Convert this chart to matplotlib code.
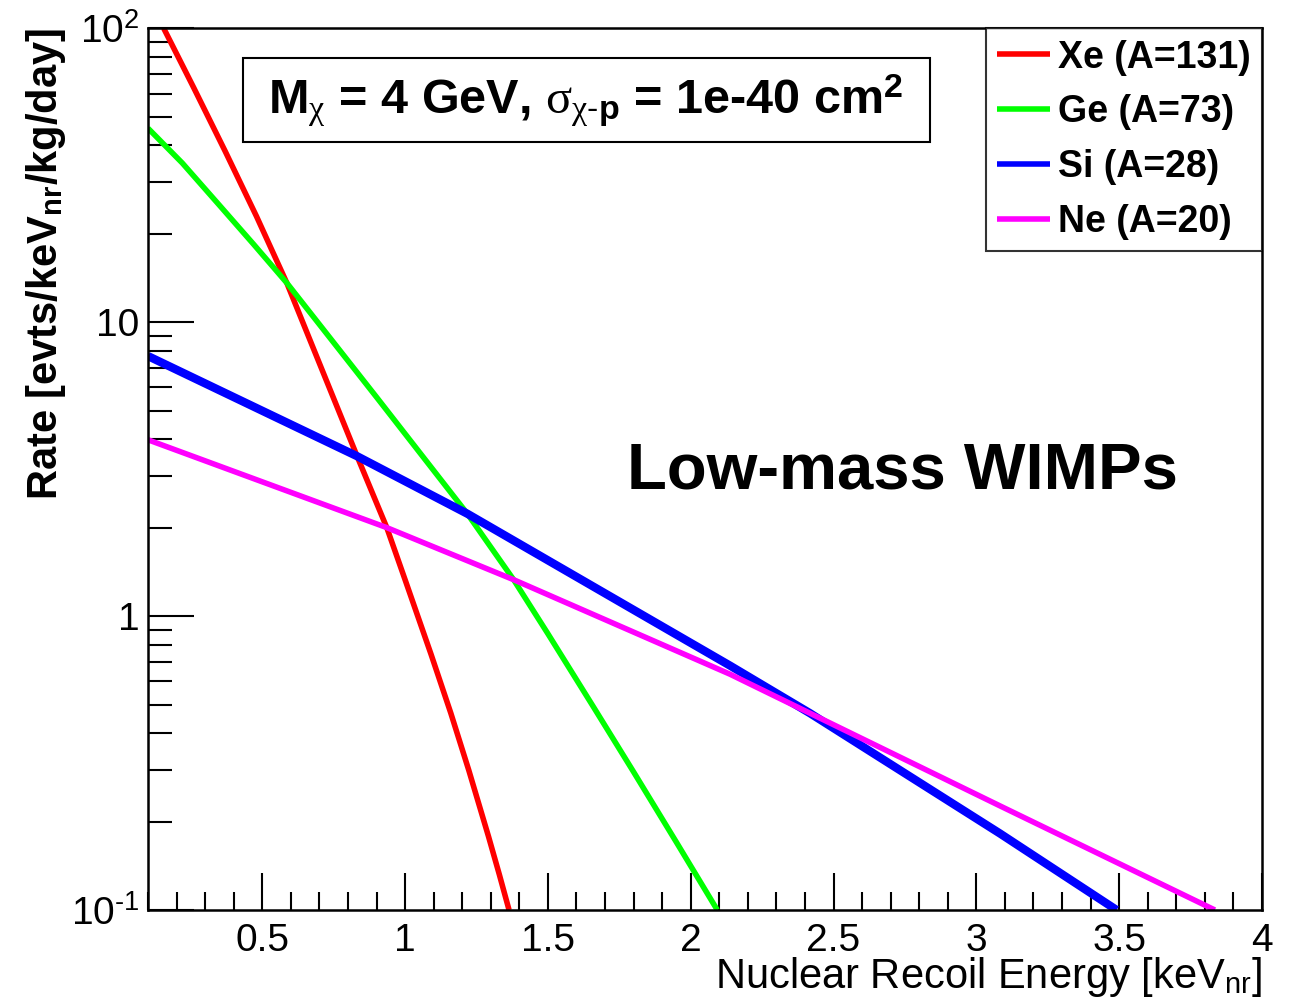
import numpy as np
import matplotlib
matplotlib.use("Agg")
import matplotlib.pyplot as plt
from matplotlib.patches import Rectangle
from matplotlib.ticker import MultipleLocator, LogLocator, FixedLocator, FixedFormatter, NullFormatter

plt.rcParams['font.family'] = ['Liberation Sans', 'DejaVu Sans']
plt.rcParams['mathtext.fontset'] = 'custom'
plt.rcParams['mathtext.rm'] = 'Liberation Sans'
plt.rcParams['mathtext.bf'] = 'Liberation Sans:bold'
plt.rcParams['mathtext.it'] = 'Liberation Serif'

# values (recoil energy in keVnr, rate in evts/keVnr/kg/day)
xe_E = [0.155, 0.260, 0.370, 0.480, 0.586, 0.832, 0.936, 1.000, 1.091, 1.160, 1.223, 1.292, 1.330, 1.364]
xe_R = [100.0, 62.8, 38.2, 22.9, 13.6, 3.50, 2.00, 1.33, 0.741, 0.468, 0.299, 0.178, 0.132, 0.10]

ge_E = [0.100, 0.220, 0.350, 0.470, 0.586, 0.900, 1.218, 1.380, 1.500, 1.660, 1.800, 1.950, 2.093]
ge_R = [45.7, 34.8, 25.0, 18.4, 13.6, 5.56, 2.23, 1.33, 0.871, 0.490, 0.295, 0.170, 0.10]

si_E = [0.100, 0.832, 1.218, 2.138, 2.418, 3.083, 3.491]
si_R = [7.67, 3.50, 2.23, 0.678, 0.467, 0.182, 0.10]

ne_E = [0.100, 0.936, 1.380, 2.138, 2.418, 3.083, 3.835]
ne_R = [3.98, 2.00, 1.33, 0.634, 0.467, 0.226, 0.10]

labels = ['Xe (A=131)', 'Ge (A=73)', 'Si (A=28)', 'Ne (A=20)']
colors = ['#ff0000', '#00ff00', '#0000ff', '#ff00ff']

W, H = 1291, 1005
fig = plt.figure(figsize=(W / 100, H / 100), dpi=100)
ax = fig.add_axes([148 / W, 95 / H, 1114 / W, 881.7 / H])

ax.plot(xe_E, xe_R, color=colors[0], lw=4, label=labels[0], solid_capstyle='butt', solid_joinstyle='round')
ax.plot(ge_E, ge_R, color=colors[1], lw=4, label=labels[1], solid_capstyle='butt', solid_joinstyle='round')
ax.plot(si_E, si_R, color=colors[2], lw=6, label=labels[2], solid_capstyle='butt', solid_joinstyle='round')
ax.plot(ne_E, ne_R, color=colors[3], lw=4, label=labels[3], solid_capstyle='butt', solid_joinstyle='round')

ax.set_yscale('log')
ax.set_xlim(0.1, 4.0)
ax.set_ylim(0.1, 100)

# ROOT-like axes
for s in ax.spines.values():
    s.set_linewidth(1.8)
ax.set_xticks([0.5, 1, 1.5, 2, 2.5, 3, 3.5, 4])
ax.set_xticklabels(['0.5', '1', '1.5', '2', '2.5', '3', '3.5', '4'])
ax.xaxis.set_minor_locator(MultipleLocator(0.1))
ax.yaxis.set_major_locator(FixedLocator([0.1, 1, 10, 100]))
ax.yaxis.set_major_formatter(FixedFormatter([r'$\mathrm{10^{\text{-}1}}$', '1', '10', r'$\mathrm{10^{2}}$']))
ax.yaxis.set_minor_locator(LogLocator(base=10, subs=np.arange(2, 10)))
ax.yaxis.set_minor_formatter(NullFormatter())
ax.tick_params(axis='both', which='both', direction='in', top=False, right=False, labelsize=28, width=1.5)
ax.tick_params(axis='x', which='major', length=27, pad=9)
ax.tick_params(axis='x', which='minor', length=13)
ax.tick_params(axis='y', which='major', length=33, pad=6)
ax.tick_params(axis='y', which='minor', length=17)

leg = ax.legend(loc='upper right', bbox_to_anchor=(1.0, 1.0), borderaxespad=0,
                prop={'weight': 'bold', 'size': 27}, frameon=True, fancybox=False,
                handlelength=1.4, handletextpad=0.22, labelspacing=0.5, borderpad=0.3)
leg.get_frame().set_edgecolor('black')
leg.get_frame().set_linewidth(1.5)
for ln in leg.get_lines():
    ln.set_linewidth(4)

# parameter box
fig.patches.append(Rectangle((243 / W, 1 - 142 / H), 687 / W, 84 / H, transform=fig.transFigure,
                             fill=False, edgecolor='black', lw=1.5))
fig.text(586 / W, 1 - 101 / H,
         r'M$_{\chi}$ = 4 GeV, $\sigma_{\chi\mathbf{\text{-}p}}$ = 1e-40 cm$^{\mathbf{2}}$',
         ha='center', va='center', fontsize=35, fontweight='bold')

fig.text(627 / W, 1 - 488 / H, 'Low-mass WIMPs', ha='left', va='baseline', fontsize=47, fontweight='bold')

fig.text(1262 / W, 1 - 988 / H, r'Nuclear Recoil Energy [keV$_{\mathrm{nr}}$]',
         ha='right', va='baseline', fontsize=30)
fig.text(46 / W, 1 - 28 / H, r'Rate [evts/keV$_{\mathbf{nr}}$/kg/day]',
         rotation=90, ha='center', va='top', fontsize=30, fontweight='bold')

fig.savefig('out.png', dpi=100)
